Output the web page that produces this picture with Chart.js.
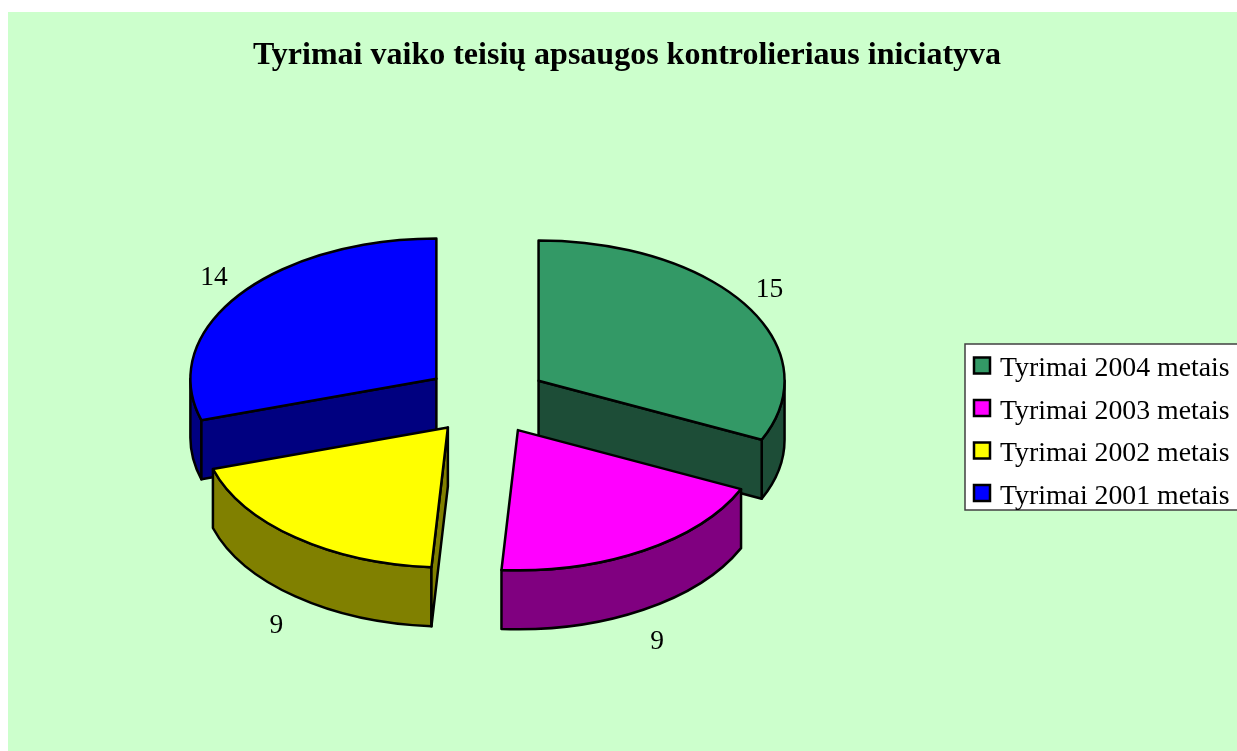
<!DOCTYPE html>
<html>
<head>
<meta charset="utf-8">
<title>Tyrimai vaiko teisių apsaugos kontrolieriaus iniciatyva</title>
<script src="https://cdn.jsdelivr.net/npm/chart.js@4/dist/chart.umd.min.js"></script>
<style>
  body { margin: 0; background: #ffffff; }
  #wrap { position: relative; width: 1237px; height: 751px; }
</style>
</head>
<body>
<div id="wrap"><canvas id="pieChart"></canvas></div>
<script>
const chartTitle = 'Tyrimai vaiko teisių apsaugos kontrolieriaus iniciatyva';
const categories = ['Tyrimai 2004 metais', 'Tyrimai 2003 metais', 'Tyrimai 2002 metais', 'Tyrimai 2001 metais'];
const values = [15, 9, 9, 14];
const topColors = ['#339966', '#FF00FF', '#FFFF00', '#0000FF'];
const sideColors = ['#1D4D37', '#800080', '#808000', '#000080'];

// look of the fake 3D pie
const TILT = 0.57;   // vertical squash of the pie
const DEPTH = 59;    // thickness in px
const SERIF = '"Liberation Serif", "Times New Roman", serif';

// draws the tilted, exploded pie from the arcs chart.js computed
const pie3d = {
    id: 'pie3d',
    beforeDraw(chart) {
        const ctx = chart.ctx;
        ctx.save();
        ctx.fillStyle = '#CCFFCC';
        ctx.fillRect(8, 12, chart.width - 8, chart.height - 12);
        ctx.restore();
    },
    beforeDatasetsDraw(chart) {
        const ctx = chart.ctx;
        const meta = chart.getDatasetMeta(0);
        const slices = meta.data.map((arc, i) => {
            const p = arc.getProps(['x', 'y', 'startAngle', 'endAngle', 'outerRadius']);
            const mid = (p.startAngle + p.endAngle) / 2;
            const off = arc.options.offset || 0;
            return {
                i, mid, r: p.outerRadius, a0: p.startAngle, a1: p.endAngle,
                ox: p.x + off * Math.cos(mid),
                oy: p.y + TILT * off * Math.sin(mid)
            };
        });
        // back slices first
        slices.sort((a, b) => Math.sin(a.mid) - Math.sin(b.mid));

        ctx.save();
        ctx.lineWidth = 2.5;
        ctx.lineJoin = 'round';
        ctx.strokeStyle = '#000000';
        slices.forEach(s => {
            const ry = s.r * TILT;
            const pt = (t, d) => [s.ox + s.r * Math.cos(t), s.oy + ry * Math.sin(t) + d];

            ctx.fillStyle = sideColors[s.i];
            // outer wall, only the front half can be seen
            const w0 = Math.max(s.a0, 0);
            const w1 = Math.min(s.a1, Math.PI);
            if (w1 > w0) {
                ctx.beginPath();
                ctx.ellipse(s.ox, s.oy, s.r, ry, 0, w0, w1);
                const b = pt(w1, DEPTH);
                ctx.lineTo(b[0], b[1]);
                ctx.ellipse(s.ox, s.oy + DEPTH, s.r, ry, 0, w1, w0, true);
                ctx.closePath();
                ctx.fill();
                ctx.stroke();
            }
            // cut faces
            [[s.a0, Math.cos(s.a0) < 0], [s.a1, Math.cos(s.a1) > 0]].forEach(([t, show]) => {
                if (!show) return;
                const p1 = pt(t, 0);
                const p2 = pt(t, DEPTH);
                ctx.beginPath();
                ctx.moveTo(s.ox, s.oy);
                ctx.lineTo(p1[0], p1[1]);
                ctx.lineTo(p2[0], p2[1]);
                ctx.lineTo(s.ox, s.oy + DEPTH);
                ctx.closePath();
                ctx.fill();
                ctx.stroke();
            });
            // top face
            ctx.fillStyle = topColors[s.i];
            ctx.beginPath();
            ctx.moveTo(s.ox, s.oy);
            ctx.ellipse(s.ox, s.oy, s.r, ry, 0, s.a0, s.a1);
            ctx.closePath();
            ctx.fill();
            ctx.stroke();
        });

        // value labels
        ctx.fillStyle = '#000000';
        ctx.font = '27.5px ' + SERIF;
        ctx.textAlign = 'center';
        ctx.textBaseline = 'alphabetic';
        slices.forEach(s => {
            const lr = s.r * 1.118;
            const x = s.ox + lr * Math.cos(s.mid);
            let y = s.oy + lr * 0.634 * Math.sin(s.mid);
            if (Math.sin(s.mid) > 0) y += DEPTH;
            ctx.fillText(String(chart.data.datasets[0].data[s.i]), x - 1, y + 10);
        });
        ctx.restore();
        return false;
    },
    afterDraw(chart) {
        const ctx = chart.ctx;
        ctx.save();
        // title
        ctx.fillStyle = '#000000';
        ctx.font = 'bold 32px ' + SERIF;
        ctx.textAlign = 'center';
        ctx.textBaseline = 'alphabetic';
        ctx.fillText(chartTitle, 627, 64);

        // legend box
        ctx.fillStyle = '#FFFFFF';
        ctx.fillRect(965, 344, 290, 166);
        ctx.strokeStyle = '#404040';
        ctx.lineWidth = 1.5;
        ctx.strokeRect(965, 344, 290, 166);
        ctx.font = '27.8px ' + SERIF;
        ctx.textAlign = 'left';
        chart.data.labels.forEach((label, i) => {
            const cy = 365.5 + i * 42.5;
            ctx.fillStyle = topColors[i];
            ctx.fillRect(974, cy - 8, 16, 16);
            ctx.strokeStyle = '#000000';
            ctx.lineWidth = 2.5;
            ctx.strokeRect(974, cy - 8, 16, 16);
            ctx.fillStyle = '#000000';
            ctx.fillText(label, 1000, cy + 10.5);
        });
        ctx.restore();
    }
};

new Chart(document.getElementById('pieChart'), {
    type: 'pie',
    data: {
        labels: categories,
        datasets: [{
            data: values,
            backgroundColor: topColors,
            borderColor: '#000000',
            borderWidth: 2,
            offset: 62
        }]
    },
    options: {
        responsive: true,
        maintainAspectRatio: false,
        animation: false,
        events: [],
        radius: 246,
        layout: { padding: { left: 0, right: 264.4, top: 48.4, bottom: 0 } },
        plugins: {
            legend: { display: false },
            title: { display: false },
            tooltip: { enabled: false }
        }
    },
    plugins: [pie3d]
});
</script>
</body>
</html>
